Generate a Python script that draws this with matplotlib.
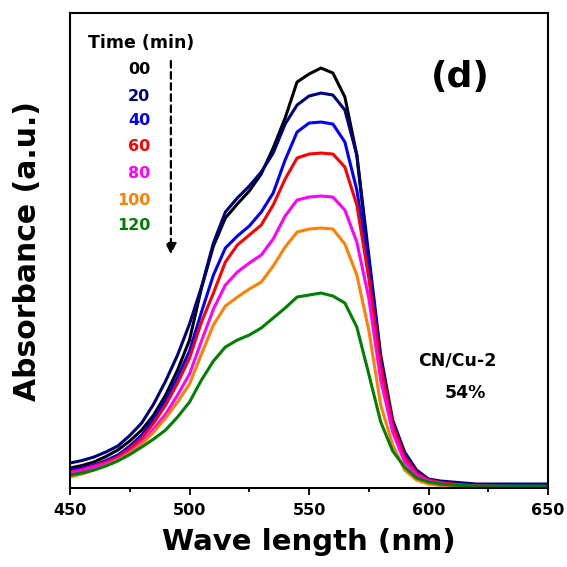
import numpy as np
import matplotlib
matplotlib.use("Agg")
import matplotlib.pyplot as plt

plt.rcParams['font.family'] = 'DejaVu Sans'
plt.rcParams['font.weight'] = 'bold'

wl = [450, 455, 460, 465, 470, 475, 480, 485, 490, 495, 500, 505, 510, 515, 520, 525, 530, 535, 540, 545,
      550, 555, 560, 565, 570, 575, 580, 585, 590, 595, 600, 605, 610, 620, 650]

a00 = [0.040, 0.045, 0.052, 0.063, 0.076, 0.094, 0.116, 0.146, 0.186, 0.236, 0.296, 0.400, 0.484, 0.540, 0.568,
       0.594, 0.628, 0.680, 0.740, 0.812, 0.828, 0.840, 0.830, 0.782, 0.666, 0.452, 0.246, 0.126, 0.060, 0.028,
       0.016, 0.011, 0.008, 0.006, 0.004]
a20 = [0.050, 0.055, 0.062, 0.072, 0.084, 0.105, 0.130, 0.168, 0.214, 0.266, 0.328, 0.402, 0.490, 0.552, 0.580,
       0.604, 0.632, 0.670, 0.728, 0.766, 0.784, 0.790, 0.786, 0.756, 0.666, 0.466, 0.266, 0.136, 0.072, 0.036,
       0.018, 0.014, 0.012, 0.008, 0.008]
a40 = [0.036, 0.040, 0.046, 0.055, 0.066, 0.084, 0.106, 0.138, 0.176, 0.222, 0.274, 0.352, 0.426, 0.480, 0.504,
       0.524, 0.552, 0.590, 0.656, 0.712, 0.730, 0.732, 0.728, 0.692, 0.596, 0.446, 0.252, 0.130, 0.066, 0.032,
       0.016, 0.011, 0.008, 0.006, 0.004]
a60 = [0.032, 0.037, 0.044, 0.052, 0.062, 0.079, 0.100, 0.130, 0.166, 0.210, 0.260, 0.332, 0.390, 0.452, 0.486,
       0.506, 0.526, 0.566, 0.618, 0.660, 0.668, 0.670, 0.668, 0.642, 0.566, 0.420, 0.244, 0.126, 0.062, 0.030,
       0.016, 0.011, 0.008, 0.004, 0.002]
a80 = [0.030, 0.035, 0.042, 0.049, 0.058, 0.073, 0.092, 0.118, 0.148, 0.186, 0.228, 0.294, 0.358, 0.406, 0.432,
       0.450, 0.466, 0.498, 0.544, 0.576, 0.582, 0.584, 0.582, 0.556, 0.492, 0.380, 0.216, 0.112, 0.052, 0.026,
       0.014, 0.009, 0.006, 0.004, 0.002]
a100 = [0.022, 0.028, 0.036, 0.045, 0.056, 0.070, 0.088, 0.112, 0.140, 0.172, 0.208, 0.268, 0.326, 0.364, 0.382,
        0.398, 0.412, 0.444, 0.482, 0.512, 0.518, 0.520, 0.518, 0.488, 0.426, 0.316, 0.166, 0.086, 0.036, 0.016,
        0.008, 0.005, 0.004, 0.002, 0.002]
a120 = [0.026, 0.030, 0.036, 0.044, 0.054, 0.067, 0.082, 0.098, 0.116, 0.142, 0.172, 0.216, 0.254, 0.282, 0.296,
        0.306, 0.320, 0.340, 0.360, 0.382, 0.386, 0.390, 0.384, 0.370, 0.322, 0.228, 0.132, 0.074, 0.042, 0.020,
        0.012, 0.008, 0.006, 0.004, 0.004]

times = ['00', '20', '40', '60', '80', '100', '120']
series = [a00, a20, a40, a60, a80, a100, a120]
colors = ['#000000', '#000080', '#0000FF', '#FF0000', '#FF00FF', '#FF8000', '#008000']

fig = plt.figure(figsize=(5.67, 5.67), dpi=100)
ax = fig.add_axes([0.1235, 0.1393, 0.843, 0.8377])

for y, c in zip(series, colors):
    ax.plot(wl, y, color=c, lw=2.2, solid_joinstyle='round')

ax.set_xlim(450, 650)
ax.set_ylim(0, 0.95)
ax.set_xticks([450, 500, 550, 600, 650])
ax.set_xticks([475, 525, 575, 625], minor=True)
ax.set_yticks([])
ax.tick_params(axis='x', which='major', direction='out', length=5, width=1.3, labelsize=11.5, pad=6)
ax.tick_params(axis='x', which='minor', direction='out', length=3, width=1.3)
for s in ax.spines.values():
    s.set_linewidth(1.5)

ax.set_xlabel('Wave length (nm)', fontsize=21, fontweight='bold', labelpad=7)
ax.set_ylabel('Absorbance (a.u.)', fontsize=21.5, fontweight='bold', labelpad=20)

ax.text(0.149, 0.937, 'Time (min)', transform=ax.transAxes, ha='center', va='center',
        fontsize=12.5, fontweight='bold')
ys = [0.882, 0.825, 0.773, 0.718, 0.663, 0.606, 0.552]
for t, c, yy in zip(times, colors, ys):
    ax.text(0.168, yy, t, transform=ax.transAxes, ha='right', va='center',
            fontsize=11.5, fontweight='bold', color=c)

ax.annotate('', xy=(0.211, 0.486), xytext=(0.211, 0.905), xycoords='axes fraction',
            arrowprops=dict(arrowstyle='-|>', color='k', lw=1.6, linestyle=(0, (3, 2)),
                            mutation_scale=16))

ax.text(0.816, 0.865, '(d)', transform=ax.transAxes, ha='center', va='center',
        fontsize=26, fontweight='bold')
ax.text(0.810, 0.269, 'CN/Cu-2', transform=ax.transAxes, ha='center', va='center',
        fontsize=12.5, fontweight='bold')
ax.text(0.826, 0.200, '54%', transform=ax.transAxes, ha='center', va='center',
        fontsize=12.5, fontweight='bold')

fig.savefig('out.png', dpi=100)
